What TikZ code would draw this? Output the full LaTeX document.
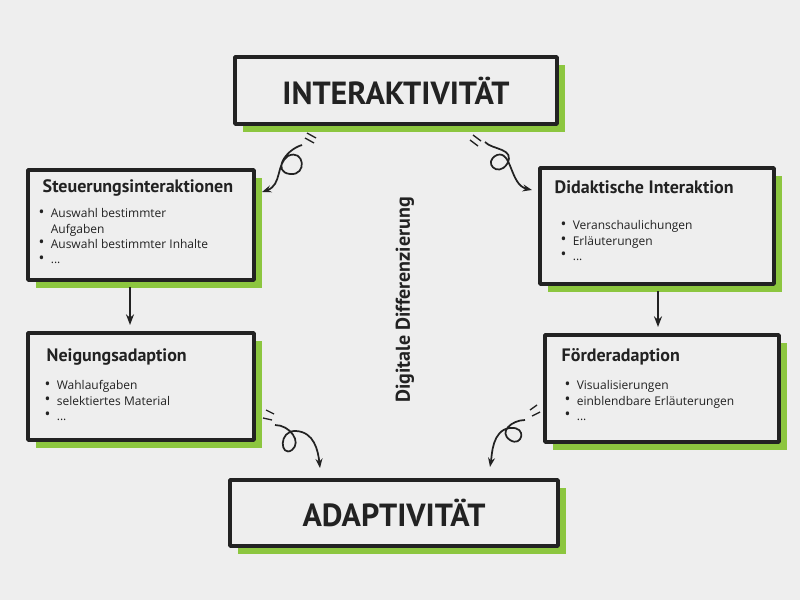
\documentclass[tikz,border=0pt]{standalone}
\usepackage{fontspec}
\setmainfont{Open Sans}
\newfontfamily\headf{PT Sans}
\usetikzlibrary{arrows.meta}
\definecolor{bg}{HTML}{EEEEEE}
\definecolor{grn}{HTML}{8CC63F}
\definecolor{ink}{HTML}{222222}
\tikzset{
  shadowbox/.style={fill=grn,draw=none},
  mainbox/.style={fill=bg,draw=ink,line width=2.6pt,line join=round},
  curl/.style={draw=ink,line width=1.3pt,-{Stealth[length=7pt]}},
  tick/.style={draw=ink,line width=1pt},
  straight/.style={draw=ink,line width=1.6pt,-{Stealth[length=8pt]}},
  head/.style={font=\headf\bfseries\fontsize{13.5}{16}\selectfont,text=ink,anchor=west},
  body/.style={font=\fontsize{9}{11.5}\selectfont,text=ink,anchor=north west,align=left}
}
\newcommand{\bul}{\raisebox{0.1ex}{\scalebox{1.3}{\textbullet}}\ \ }
\newcommand{\boxat}[5]{%
  \fill[shadowbox] (#2+8,#3+8) rectangle (#4+8,#5+8);
  \draw[mainbox] (#2,#3) rectangle (#4,#5);
  \coordinate (#1) at ({(#2+#4)/2},{(#3+#5)/2});}
\begin{document}
\begin{tikzpicture}[x=0.75pt,y=-0.75pt]
\fill[bg] (0,0) rectangle (800,600);
\useasboundingbox (0,0) rectangle (800,600);
% boxes
\boxat{top}{235}{57}{557}{124}
\node[font=\headf\bfseries\fontsize{24}{28}\selectfont,text=ink] (topt) at (top) {INTERAKTIVITÄT};
\boxat{bot}{230}{480}{558}{546}
\node[font=\headf\bfseries\fontsize{24}{28}\selectfont,text=ink] (bott) at (bot) {ADAPTIVITÄT};
\boxat{sb}{28}{170}{254}{280}
\node[head] (sh) at (38,188) {Steuerungsinteraktionen};
\node[body] (sl) at (34,204) {\bul Auswahl bestimmter\\ \phantom{\bul}Aufgaben\\ \bul Auswahl bestimmter Inhalte\\ \bul ...};
\boxat{db}{540}{168}{774}{284}
\node[head] (dh) at (550,187) {Didaktische Interaktion};
\node[body] (dl) at (556,216) {\bul Veranschaulichungen\\ \bul Erläuterungen\\ \bul ...};
\boxat{nb}{28}{333}{254}{440}
\node[head] (nh) at (42,357) {Neigungsadaption};
\node[body] (nl) at (40,376) {\bul Wahlaufgaben\\ \bul selektiertes Material\\ \bul ...};
\boxat{fb}{545}{335}{779}{442}
\node[head] (fh) at (557,357) {Förderadaption};
\node[body] (fl) at (560,376) {\bul Visualisierungen\\ \bul einblendbare Erläuterungen\\ \bul ...};
% vertical text
\node[font=\headf\bfseries\fontsize{15}{17}\selectfont,text=ink,rotate=90] (dd) at (405,300) {Digitale Differenzierung};
% straight arrows
\coordinate (s1) at (130,287); \coordinate (s2) at (130,325);
\draw[straight] (s1) -- (s2);
\coordinate (d1) at (658,291); \coordinate (d2) at (658,327);
\draw[straight] (d1) -- (d2);
% curls
\coordinate (c1a) at (302,145); \coordinate (c1b) at (262,192);
\draw[curl] (c1a) .. controls (285,150) and (272,172) .. (290,174) .. controls (308,176) and (304,148) .. (288,156) .. controls (276,164) and (282,185) .. (c1b);
\draw[tick] (305,138)--(314,143) (307,133)--(316,138);
\coordinate (c2a) at (485,142); \coordinate (c2b) at (532,190);
\draw[curl] (c2a) .. controls (492,150) and (516,148) .. (507,164) .. controls (498,178) and (482,162) .. (497,155) .. controls (512,150) and (510,185) .. (c2b);
\draw[tick] (470,140)--(478,146) (473,135)--(481,141);
\coordinate (c3a) at (275,425); \coordinate (c3b) at (320,468);
\draw[curl] (c3a) .. controls (290,425) and (302,442) .. (292,450) .. controls (280,458) and (278,430) .. (296,431) .. controls (314,432) and (318,450) .. (c3b);
\draw[tick] (263,418)--(272,420) (266,410)--(274,414);
\coordinate (c4a) at (525,420); \coordinate (c4b) at (490,467);
\draw[curl] (c4a) .. controls (512,420) and (498,432) .. (510,440) .. controls (522,448) and (528,426) .. (510,428) .. controls (492,430) and (492,455) .. (c4b);
\draw[tick] (532,416)--(540,412) (530,410)--(537,405);
\end{tikzpicture}
\end{document}
